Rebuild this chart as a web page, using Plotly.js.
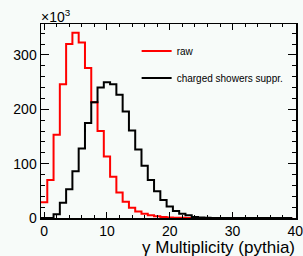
<!DOCTYPE html>
<html>
<head>
<meta charset="utf-8">
<script src="https://cdn.plot.ly/plotly-3.0.1.min.js"></script>
<style>html,body{margin:0;padding:0;background:#f7fbf9;}#chart{width:303px;height:256px;}</style>
</head>
<body>
<div id="chart"></div>
<script>
// bin centres (gamma multiplicity), width 1
const binCenters = [0,1,2,3,4,5,6,7,8,9,10,11,12,13,14,15,16,17,18,19,20,21,22,23,24,25,26,27,28,29,30,31,32,33,34,35,36,37,38,39];
// counts in units of 10^3
const rawCounts = [29,70,153,246,320,341,323,276,213,160,113,76,47,30,19,12,8,5,3,2,1,0.6,0.3,0,0,0,0,0,0,0,0,0,0,0,0,0,0,0,0,0];
const suppCounts = [0,0,7,28,53,86,128,175,213,240,250,246,227,196,161,126,96,70,49,33,21,13,8,5,2,1,0.3,0,0,0,0,0,0,0,0,0,0,0,0,0];
const seriesNames = ["raw", "charged showers suppr."];
const yTicks = [0,100,200,300];
const xTicks = [0,10,20,30,40];

function edges(c){ const e = c.map(v => v - 0.5); e.push(c[c.length-1] + 0.5); return e; }
function steps(v){ const s = v.slice(); s.push(v[v.length-1]); return s; }

const font = "Liberation Sans, Arial, Helvetica, sans-serif";
const traces = [
  {x: edges(binCenters), y: steps(rawCounts), type: "scatter", mode: "lines", line: {shape: "hv", color: "#ff0000", width: 2}, name: seriesNames[0], legendgroup: "a"},
  {x: edges(binCenters), y: steps(suppCounts), type: "scatter", mode: "lines", line: {shape: "hv", color: "#000000", width: 2}, name: seriesNames[1], legendgroup: "b"}
];
const layout = {
  width: 303, height: 256,
  margin: {l: 41, r: 7, t: 24, b: 38},
  paper_bgcolor: "#f7fbf9", plot_bgcolor: "#f7fbf9",
  font: {family: font, size: 14, color: "#000"},
  showlegend: true,
  legend: {x: 0.375, y: 0.935, xanchor: "left", yanchor: "top", bgcolor: "rgba(0,0,0,0)", font: {size: 10, family: font}, tracegroupgap: 8, traceorder: "grouped"},
  xaxis: {range: [-0.5, 40.1], tickvals: xTicks, ticktext: xTicks.map(String), ticks: "inside", ticklen: 6, tickwidth: 1, tickcolor: "#000",
          minor: {dtick: 2, tick0: 0, ticks: "inside", ticklen: 3, tickcolor: "#000", showgrid: false},
          showline: true, linecolor: "#000", linewidth: 1.5, mirror: "ticks", showgrid: false, zeroline: false,
          ticklabeloverflow: "allow", tickfont: {size: 14, family: font}},
  yaxis: {range: [0, 357], tickvals: yTicks, ticktext: yTicks.map(String), ticks: "inside", ticklen: 8, tickwidth: 1, tickcolor: "#000",
          minor: {dtick: 20, tick0: 0, ticks: "inside", ticklen: 4, tickcolor: "#000", showgrid: false},
          showline: true, linecolor: "#000", linewidth: 1.5, mirror: "ticks", showgrid: false, zeroline: false,
          tickfont: {size: 14, family: font}},
  annotations: [
    {text: "γ Multiplicity (pythia)", xref: "paper", yref: "paper", x: 1.005, y: 0, xanchor: "right", yanchor: "top", yshift: -18, showarrow: false, font: {size: 17, family: font}},
    {text: "×10<sup>3</sup>", xref: "paper", yref: "paper", x: 0, y: 1, xanchor: "left", yanchor: "bottom", xshift: -2, yshift: -3, showarrow: false, font: {size: 14, family: font}}
  ]
};
Plotly.newPlot("chart", traces, layout, {displayModeBar: false, staticPlot: true});
</script>
</body>
</html>
